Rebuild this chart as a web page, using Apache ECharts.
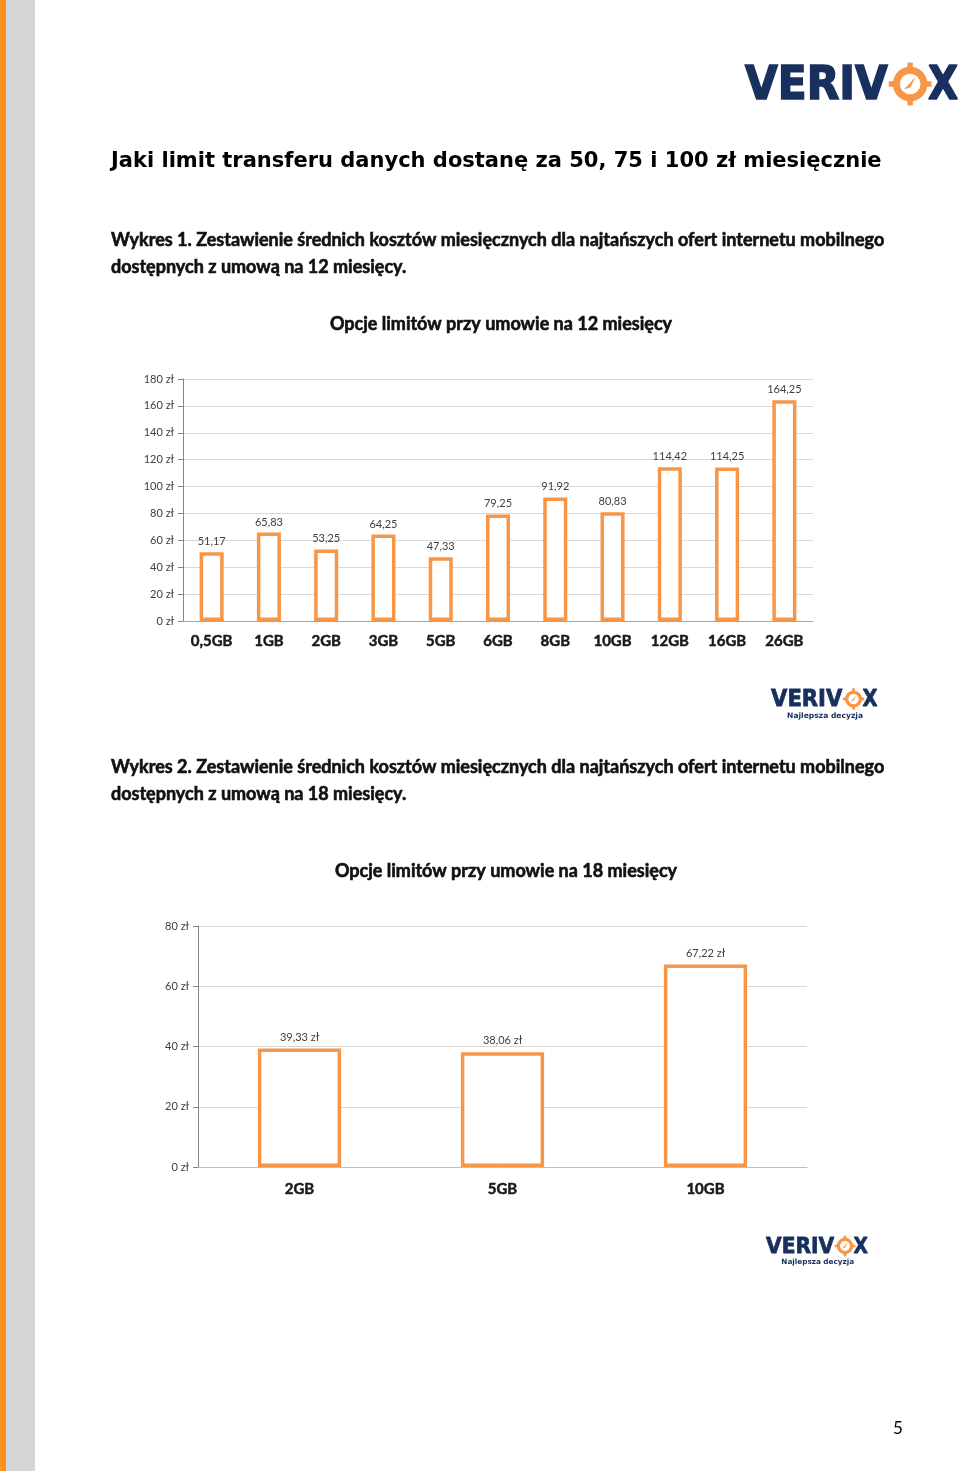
<!DOCTYPE html>
<html>
<head>
<meta charset="utf-8">
<script src="https://cdn.jsdelivr.net/npm/echarts@6/dist/echarts.min.js"></script>
<style>
  html, body { margin: 0; padding: 0; background: #fff; }
  #page { width: 960px; height: 1471px; }
</style>
</head>
<body>
<div id="page"></div>
<script>
// chart 1: 12-month contract
const cats12 = ["0,5GB", "1GB", "2GB", "3GB", "5GB", "6GB", "8GB", "10GB", "12GB", "16GB", "26GB"];
const vals12 = [51.17, 65.83, 53.25, 64.25, 47.33, 79.25, 91.92, 80.83, 114.42, 114.25, 164.25];
// chart 2: 18-month contract
const cats18 = ["2GB", "5GB", "10GB"];
const vals18 = [39.33, 38.06, 67.22];

const orange = "#F79646";
const navy = "#17305E";
const plFmt = (v) => v.toFixed(2).replace(".", ",");

// verivox logo built from text + ring
function logo(x0, yc, fs, tagline) {
  const els = [];
  const dy = fs * 0.06;
  const font = "bold " + fs + "px 'DejaVu Sans'";
  const sw = fs * 0.035;
  els.push({
    type: "text", x: x0, y: yc + dy, scaleX: 0.92,
    style: { text: "VERIV", font: font, fill: navy, stroke: navy, lineWidth: sw, textVerticalAlign: "middle" }
  });
  els.push({
    type: "text", x: x0 + 3.98 * fs, y: yc + dy, scaleX: 0.85,
    style: { text: "X", font: font, fill: navy, stroke: navy, lineWidth: sw, textVerticalAlign: "middle" }
  });
  const cx = x0 + 3.59 * fs, r = 0.3 * fs, lw = 0.15 * fs;
  els.push({ type: "circle", shape: { cx: cx, cy: yc, r: r }, style: { fill: "none", stroke: orange, lineWidth: lw } });
  const n = 0.12 * fs, m = 0.09 * fs;
  els.push({ type: "rect", shape: { x: cx - n / 2, y: yc - r - lw / 2 - m, width: n, height: m + 1 }, style: { fill: orange } });
  els.push({ type: "rect", shape: { x: cx - n / 2, y: yc + r + lw / 2 - 1, width: n, height: m + 1 }, style: { fill: orange } });
  els.push({ type: "rect", shape: { x: cx - r - lw / 2 - m, y: yc - n / 2, width: m + 1, height: n }, style: { fill: orange } });
  els.push({ type: "rect", shape: { x: cx + r + lw / 2 - 1, y: yc - n / 2, width: m + 1, height: n }, style: { fill: orange } });
  const p = 0.2 * fs;
  els.push({
    type: "polygon",
    shape: { points: [[cx + p * 0.6, yc - p * 0.8], [cx - p * 0.2, yc + p * 0.1], [cx - p * 0.7, yc + p * 0.6], [cx + p * 0.05, yc + p * 0.35]] },
    style: { fill: orange }
  });
  if (tagline) {
    els.push({
      type: "text", x: x0 + 2.35 * fs, y: yc + 0.74 * fs,
      style: { text: tagline, font: "bold " + (0.33 * fs) + "px 'DejaVu Sans'", fill: navy, textAlign: "center", textVerticalAlign: "middle" }
    });
  }
  return els;
}

// bold Lato text, thickened a little with a stroke
function boldText(x, y, text, align) {
  return {
    type: "text", x: x, y: y,
    style: { text: text, font: "bold 18px Lato", fill: "#111", stroke: "#111", lineWidth: 0.6,
      textAlign: align || "left", textVerticalAlign: "middle" }
  };
}

const axisLabelY = { color: "#404040", fontSize: 11, fontFamily: "Lato", formatter: (v) => v + " zł" };
const axisLabelX = { color: "#1a1a1a", fontSize: 15, fontWeight: "bold", fontFamily: "Lato",
  textBorderColor: "#1a1a1a", textBorderWidth: 0.5 };

const chart = echarts.init(document.getElementById("page"), null, { renderer: "canvas" });
const option = {
  backgroundColor: "#fff",
  animation: false,
  grid: [
    { left: 183, right: 147, top: 379, bottom: 850 },
    { left: 198, right: 153, top: 926, bottom: 304 }
  ],
  xAxis: [
    { type: "category", gridIndex: 0, data: cats12,
      axisLine: { lineStyle: { color: "#A6A6A6" } }, axisTick: { show: false },
      axisLabel: Object.assign({ margin: 13 }, axisLabelX) },
    { type: "category", gridIndex: 1, data: cats18,
      axisLine: { lineStyle: { color: "#BFBFBF" } }, axisTick: { show: false },
      axisLabel: Object.assign({ margin: 15 }, axisLabelX) }
  ],
  yAxis: [
    { type: "value", gridIndex: 0, min: 0, max: 180, interval: 20,
      axisLine: { show: true, lineStyle: { color: "#868686" } },
      axisTick: { show: true, length: 5, lineStyle: { color: "#868686" } },
      splitLine: { lineStyle: { color: "#D9D9D9" } },
      axisLabel: Object.assign({ margin: 9 }, axisLabelY) },
    { type: "value", gridIndex: 1, min: 0, max: 80, interval: 20,
      axisLine: { show: true, lineStyle: { color: "#868686" } },
      axisTick: { show: true, length: 5, lineStyle: { color: "#868686" } },
      splitLine: { lineStyle: { color: "#D9D9D9" } },
      axisLabel: Object.assign({ margin: 9 }, axisLabelY) }
  ],
  series: [
    { type: "bar", xAxisIndex: 0, yAxisIndex: 0, data: vals12, barWidth: "42%",
      itemStyle: { color: "#fff", borderColor: orange, borderWidth: 3.5 },
      label: { show: true, position: "top", distance: 5, color: "#404040", fontSize: 11, fontFamily: "Lato",
        formatter: (p) => plFmt(p.value) } },
    { type: "bar", xAxisIndex: 1, yAxisIndex: 1, data: vals18, barWidth: "41%",
      itemStyle: { color: "#fff", borderColor: orange, borderWidth: 3.5 },
      label: { show: true, position: "top", distance: 6, color: "#404040", fontSize: 11, fontFamily: "Lato",
        formatter: (p) => plFmt(p.value) + " zł" } }
  ],
  graphic: [
    { type: "rect", shape: { x: 0, y: 0, width: 6, height: 1471 }, style: { fill: "#F7941D" } },
    { type: "rect", shape: { x: 6, y: 0, width: 29, height: 1471 }, style: { fill: "#D3D6D4" } },
    { type: "text", x: 111, y: 162,
      style: { text: "Jaki limit transferu danych dostanę za 50, 75 i 100 zł miesięcznie",
        font: "bold 21px 'DejaVu Sans'", fill: "#000", textVerticalAlign: "middle" } },
    boldText(111, 240, "Wykres 1. Zestawienie średnich kosztów miesięcznych dla najtańszych ofert internetu mobilnego"),
    boldText(111, 267, "dostępnych z umową na 12 miesięcy."),
    boldText(501, 324, "Opcje limitów przy umowie na 12 miesięcy", "center"),
    boldText(111, 767, "Wykres 2. Zestawienie średnich kosztów miesięcznych dla najtańszych ofert internetu mobilnego"),
    boldText(111, 794, "dostępnych z umową na 18 miesięcy."),
    boldText(506, 871, "Opcje limitów przy umowie na 18 miesięcy", "center"),
    { type: "text", x: 898, y: 1429,
      style: { text: "5", font: "17px Lato", fill: "#000", textAlign: "center", textVerticalAlign: "middle" } }
  ].concat(logo(745, 84, 46), logo(771, 699, 23, "Najlepsza decyzja"), logo(766, 1246, 22, "Najlepsza decyzja"))
};
chart.setOption(option);
</script>
</body>
</html>
